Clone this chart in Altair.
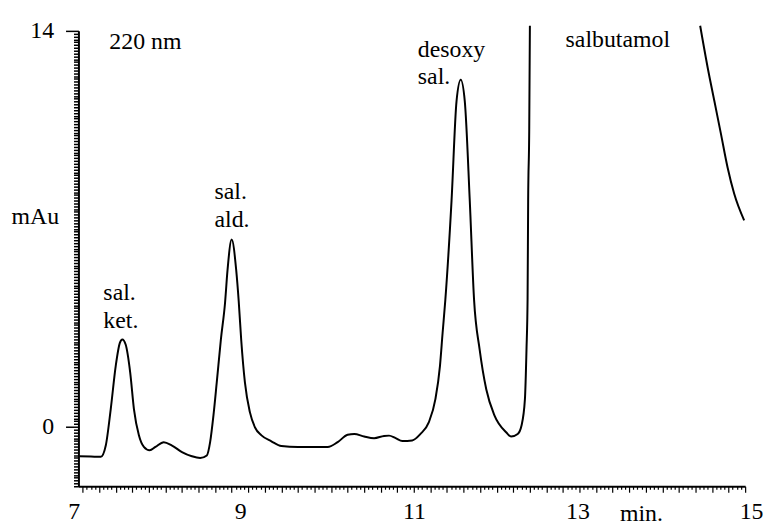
import altair as alt
import pandas as pd

# ---- chromatogram trace (time in min, absorbance in mAu) ----
main_t = [6.96, 7.10, 7.22, 7.28, 7.34, 7.40, 7.45, 7.48, 7.52, 7.575, 7.62, 7.68, 7.74,
          7.81, 7.88, 7.98, 8.08, 8.20, 8.32, 8.42, 8.50, 8.54, 8.58, 8.62, 8.67, 8.72,
          8.75, 8.80, 8.855, 8.885, 8.915, 8.96, 9.02, 9.08, 9.16, 9.28, 9.40, 9.60, 9.96,
          10.08, 10.20, 10.28, 10.40, 10.52, 10.64, 10.70, 10.78, 10.86, 10.98, 11.08,
          11.18, 11.26, 11.315, 11.347, 11.38, 11.455, 11.515, 11.566, 11.615, 11.675,
          11.727, 11.794, 11.874, 11.974, 12.114, 12.174, 12.254, 12.30, 12.341, 12.36,
          12.373, 12.38, 12.393, 12.401]
main_v = [-1.04, -1.05, -1.06, -0.66, 0.63, 2.15, 2.97, 3.09, 2.91, 1.92, 0.63, -0.30, -0.71,
          -0.83, -0.71, -0.54, -0.66, -0.89, -1.04, -1.10, -1.01, -0.54, 0.40, 1.57, 3.09, 4.38,
          5.54, 6.62, 5.54, 4.45, 3.09, 1.57, 0.52, -0.01, -0.30, -0.51, -0.68, -0.71, -0.71,
          -0.54, -0.28, -0.25, -0.34, -0.40, -0.32, -0.31, -0.40, -0.50, -0.48, -0.25,
          0.16, 0.98, 2.15, 3.32, 4.49, 8.0, 11.51, 12.27, 11.51, 8.0,
          4.49, 2.74, 1.33, 0.40, -0.19, -0.34, -0.25, 0.05, 0.98, 2.74,
          4.49, 8.0, 10.5, 14.18]

tail_t = [14.457, 14.549, 14.629, 14.709, 14.788, 14.868, 14.988]
tail_v = [14.18, 12.68, 11.51, 10.34, 9.17, 8.24, 7.30]

# ---- annotations ----
label_text = ["220 nm", "sal.\nket.", "sal.\nald.", "desoxy\nsal.", "salbutamol"]
label_t = [7.323, 7.251, 8.593, 11.048, 12.832]
label_v = [13.37, 4.49, 8.04, 13.09, 13.44]

# ---- axis labels ----
x_labels = [7, 9, 11, 13, 15]
y_labels = [0, 14]
x_ticks = [round(7 + 0.05 * i, 2) for i in range(161)]
y_ticks = [round(-2.1 + 0.1 * i, 1) for i in range(162)]

FONT = "Liberation Serif, Times New Roman, DejaVu Serif, serif"
FS = 24

trace = pd.concat([
    pd.DataFrame({"t": main_t, "v": main_v, "seg": "main"}),
    pd.DataFrame({"t": tail_t, "v": tail_v, "seg": "tail"}),
])
labels = pd.DataFrame({"t": label_t, "v": label_v, "text": label_text})

xs = alt.Scale(domain=[6.95, 15], nice=False, zero=False)
ys = alt.Scale(domain=[-2.1, 14], nice=False, zero=False)

x_lab_expr = "indexof(%s, datum.value) >= 0 ? format(datum.value, 'd') : ''" % str(x_labels)
y_lab_expr = "indexof(%s, datum.value) >= 0 ? format(datum.value, 'd') : ''" % str(y_labels)

x_axis = alt.Axis(
    values=x_ticks, tickCount=1000, labelExpr=x_lab_expr, grid=False,
    tickSize={"condition": {"test": "abs(datum.value*5 - round(datum.value*5)) < 0.001", "value": 6}, "value": 3},
    labelOffset={"condition": [
        {"test": "datum.value == 7", "value": -9},
        {"test": "datum.value == 9", "value": -8},
        {"test": "datum.value == 13", "value": -2},
        {"test": "datum.value == 15", "value": 6}], "value": 0},
    labelPadding=27, labelBaseline="alphabetic", labelOverlap=False, labelFlush=False,
    title="min.", titleX=567, titleY=35, titleAlign="center", titleBaseline="alphabetic",
    titleFontWeight="normal", titleFont=FONT, titleFontSize=FS,
    domainColor="black", domainWidth=2, tickColor="black", tickWidth=1.2,
    labelFont=FONT, labelFontSize=FS, labelColor="black", titleColor="black",
)
y_axis = alt.Axis(
    values=y_ticks, tickCount=1000, labelExpr=y_lab_expr, grid=False,
    tickSize={"condition": {"test": "datum.value == 0 || datum.value == 14", "value": 13}, "value": 5},
    labelPadding=12, labelBaseline="middle", labelOverlap=False, labelFlush=False,
    title="mAu", titleAngle=0, titleX=-44, titleY=194, titleAlign="center",
    titleBaseline="alphabetic", titleFontWeight="normal", titleFont=FONT, titleFontSize=FS,
    domainColor="black", domainWidth=2, tickColor="black", tickWidth=1.5,
    labelFont=FONT, labelFontSize=FS, labelColor="black", titleColor="black",
)

line = alt.Chart(trace).mark_line(color="black", strokeWidth=2, interpolate="monotone", clip=False).encode(
    x=alt.X("t:Q", scale=xs, axis=x_axis),
    y=alt.Y("v:Q", scale=ys, axis=y_axis),
    detail="seg:N",
)
text = alt.Chart(labels).mark_text(
    font=FONT, fontSize=FS, align="left", baseline="alphabetic", lineBreak="\n",
    lineHeight=28, color="black",
).encode(x=alt.X("t:Q", scale=xs), y=alt.Y("v:Q", scale=ys), text="text:N")

chart = alt.layer(line, text).properties(
    width=672, height=459,
    background="white",
    autosize=alt.AutoSizeParams(type="none"),
    padding={"left": 71, "top": 21, "right": 18, "bottom": 38},
).configure_view(strokeWidth=0, strokeOpacity=0)

chart.save("out.html", embed_options={"renderer": "svg", "actions": False})
